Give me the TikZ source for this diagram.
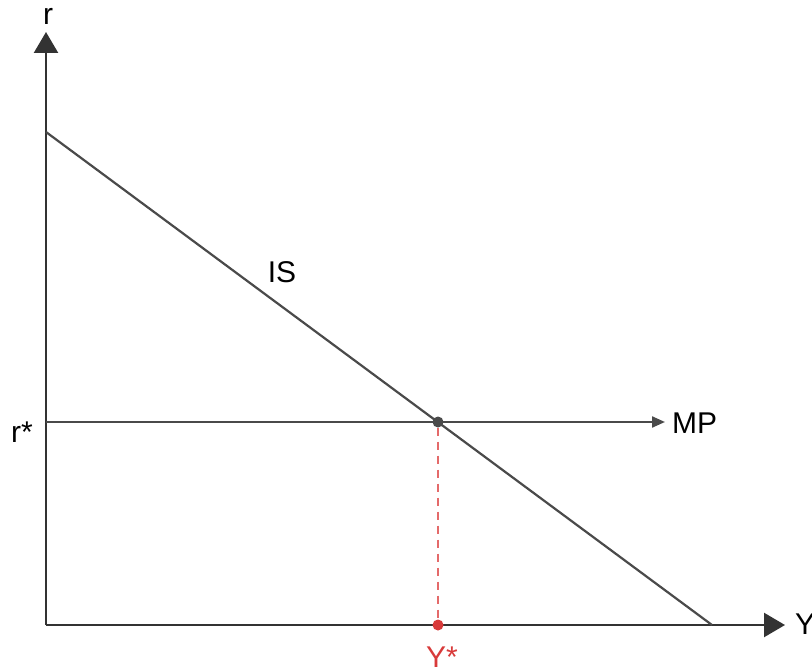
\documentclass[tikz,border=0pt]{standalone}
\usepackage{fontspec}
\setmainfont{Liberation Sans}
\usetikzlibrary{arrows.meta}
\definecolor{linegray}{HTML}{4A4A4A}
\definecolor{eqred}{HTML}{D83A3A}
\definecolor{dashred}{HTML}{E46A6A}
\begin{document}
\begin{tikzpicture}[x=1pt,y=-1pt,
  axis/.style={draw=black!80, line width=2.4pt, -{Triangle[length=21pt,width=24pt]}},
  curve/.style={draw=linegray, line width=2.2pt},
  lbl/.style={font=\fontsize{30}{34}\selectfont, inner sep=0pt},
  eqdot/.style={circle, inner sep=0pt, minimum size=11pt}]
\useasboundingbox (0,0) rectangle (812,669);
\coordinate (O) at (46,625);
\coordinate (ytop) at (46,32);
\coordinate (xend) at (785,625);
\coordinate (isA) at (46,132);
\coordinate (isB) at (712,625);
\coordinate (mpA) at (46,422);
\coordinate (mpB) at (665,422);
% axes
\draw[axis] (O) -- (ytop);
\draw[axis] (O) -- (xend);
% curves
\draw[curve] (isA) -- (isB);
\draw[curve, -{Triangle[length=13pt,width=11pt]}] (mpA) -- (mpB);
% equilibrium
\node[eqdot, fill=linegray] (E) at (438,422) {};
\node[eqdot, fill=eqred] (Ys) at (438,625) {};
\draw[dashred, line width=2.2pt, dash pattern=on 8pt off 6pt] (E) -- (Ys);
% labels
\node[lbl, anchor=base] (rlab) at (48,25) {r};
\node[lbl, anchor=base west] (Ylab) at (795,634) {Y};
\node[lbl, anchor=base] (ISlab) at (282,282) {IS};
\node[lbl, anchor=base west] (MPlab) at (672,433) {MP};
\node[lbl, anchor=base east] (rstar) at (33,442) {r*};
\node[lbl, anchor=base, text=eqred] (Ystar) at (442,667) {Y*};
\end{tikzpicture}
\end{document}
